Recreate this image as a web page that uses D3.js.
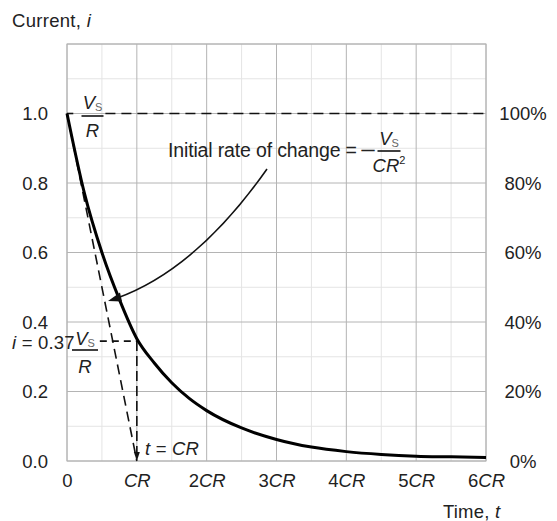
<!DOCTYPE html>
<html>
<head>
<meta charset="utf-8">
<script src="https://cdn.jsdelivr.net/npm/d3@7"></script>
<style>
  html, body { margin: 0; padding: 0; background: #fff; }
  svg text { font-family: "Liberation Sans", Arial, sans-serif; fill: #222; }
</style>
</head>
<body>
<svg id="chart" width="557" height="521"></svg>
<script>
// ---- data ----
const timeTicks = [0, 1, 2, 3, 4, 5, 6];
const timeTickNumbers = ["0", "", "2", "3", "4", "5", "6"];
const currentTicks = [0, 0.2, 0.4, 0.6, 0.8, 1.0];
const currentTickLabels = ["0.0", "0.2", "0.4", "0.6", "0.8", "1.0"];
const percentTickLabels = ["0%", "20%", "40%", "60%", "80%", "100%"];
const curveTime = [0, 0.25, 0.5, 0.75, 1, 1.25, 1.5, 1.75, 2, 2.5, 3, 3.5, 4, 4.5, 5, 5.5, 6];
const curveCurrent = [1.0, 0.77, 0.60, 0.465, 0.352, 0.282, 0.225, 0.18, 0.145, 0.095, 0.062, 0.04, 0.027, 0.019, 0.014, 0.012, 0.01];
const tangentTime = [0, 1];
const tangentCurrent = [1, 0];
const currentAtCR = 0.345;
const timeConstant = 1;
const initialCurrent = 1.0;

// ---- layout ----
const svg = d3.select("#chart");
const x = d3.scaleLinear().domain([0, 6]).range([67, 486]);
const y = d3.scaleLinear().domain([0, 1.2]).range([461, 44]);
const FS = 18.5;

// grid
const g = svg.append("g");
const vGrid = d3.range(0, 6.01, 0.5);
const hGrid = d3.range(0, 1.201, 0.1);
g.selectAll(".vminor").data(vGrid.filter(v => Math.abs(v - Math.round(v)) > 0.01))
  .join("line").attr("x1", d => x(d)).attr("x2", d => x(d)).attr("y1", y(0)).attr("y2", y(1.2))
  .attr("stroke", "#e4e4e4").attr("stroke-width", 1);
g.selectAll(".hminor").data(hGrid.filter(v => Math.abs(v * 5 - Math.round(v * 5)) > 0.01))
  .join("line").attr("y1", d => y(d)).attr("y2", d => y(d)).attr("x1", x(0)).attr("x2", x(6))
  .attr("stroke", "#e4e4e4").attr("stroke-width", 1);
g.selectAll(".vmajor").data(vGrid.filter(v => Math.abs(v - Math.round(v)) <= 0.01))
  .join("line").attr("x1", d => x(d)).attr("x2", d => x(d)).attr("y1", y(0)).attr("y2", y(1.2))
  .attr("stroke", "#b4b4b4").attr("stroke-width", 1);
g.selectAll(".hmajor").data(hGrid.filter(v => Math.abs(v * 5 - Math.round(v * 5)) <= 0.01))
  .join("line").attr("y1", d => y(d)).attr("y2", d => y(d)).attr("x1", x(0)).attr("x2", x(6))
  .attr("stroke", "#b4b4b4").attr("stroke-width", 1);
g.append("rect").attr("x", x(0)).attr("y", y(1.2)).attr("width", x(6) - x(0)).attr("height", y(0) - y(1.2))
  .attr("fill", "none").attr("stroke", "#b4b4b4").attr("stroke-width", 1);

// axes (text only, via d3 axes)
const leftAxis = d3.axisLeft(y).tickValues(currentTicks).tickFormat((d, i) => currentTickLabels[i]).tickSize(0).tickPadding(0);
const la = svg.append("g").attr("transform", `translate(48,0)`).call(leftAxis);
la.select(".domain").remove();
la.selectAll("text").attr("font-size", FS).attr("dy", "0.34em").style("font-family", "Liberation Sans, Arial, sans-serif").attr("fill", "#222");

const rightAxis = d3.axisRight(y).tickValues(currentTicks).tickFormat((d, i) => percentTickLabels[i]).tickSize(0).tickPadding(0);
const ra = svg.append("g").attr("transform", `translate(523,0)`).call(rightAxis);
ra.select(".domain").remove();
ra.selectAll("text").attr("font-size", FS).attr("dy", "0.34em").attr("text-anchor", "middle").style("font-family", "Liberation Sans, Arial, sans-serif").attr("fill", "#222");

const bottomAxis = d3.axisBottom(x).tickValues(timeTicks).tickFormat(() => "").tickSize(0).tickPadding(0);
const ba = svg.append("g").attr("transform", `translate(0,487)`).call(bottomAxis);
ba.select(".domain").remove();
ba.selectAll(".tick text").each(function (d, i) {
  const t = d3.select(this).attr("y", 0).attr("dy", 0).attr("font-size", FS).attr("text-anchor", "middle")
    .style("font-family", "Liberation Sans, Arial, sans-serif").attr("fill", "#222");
  t.text(null);
  if (timeTickNumbers[i]) t.append("tspan").text(timeTickNumbers[i]);
  if (d !== 0) t.append("tspan").attr("font-style", "italic").text("CR");
});

// axis titles
const ct = svg.append("text").attr("x", 12).attr("y", 27).attr("font-size", FS).attr("letter-spacing", 0.3);
ct.append("tspan").text("Current, ");
ct.append("tspan").attr("font-style", "italic").text("i");
const tt = svg.append("text").attr("x", 443).attr("y", 518).attr("font-size", FS).attr("letter-spacing", 0.2);
tt.append("tspan").text("Time, ");
tt.append("tspan").attr("font-style", "italic").text("t");

// dashed lines
const dash = "10,6";
const line = d3.line().x(d => x(d[0])).y(d => y(d[1]));
svg.append("path").attr("d", line([[0, initialCurrent], [0.09, initialCurrent]]))
  .attr("stroke", "#111").attr("stroke-width", 1.6).attr("fill", "none");
svg.append("path").attr("d", line([[0.55, initialCurrent], [6.04, initialCurrent]]))
  .attr("stroke", "#111").attr("stroke-width", 1.6).attr("fill", "none").attr("stroke-dasharray", dash);
// tangent
svg.append("path").attr("d", line(tangentTime.map((t, i) => [t, tangentCurrent[i]])))
  .attr("stroke", "#111").attr("stroke-width", 1.6).attr("fill", "none").attr("stroke-dasharray", dash);
// horizontal at 0.37
svg.append("path").attr("d", line([[0.47, currentAtCR], [timeConstant, currentAtCR]]))
  .attr("stroke", "#111").attr("stroke-width", 1.6).attr("fill", "none").attr("stroke-dasharray", "7,5");
// vertical at CR
svg.append("path").attr("d", line([[timeConstant, currentAtCR], [timeConstant, 0.02]]))
  .attr("stroke", "#111").attr("stroke-width", 1.6).attr("fill", "none").attr("stroke-dasharray", "10,5");
// small arrowhead at bottom of vertical
const ax = x(timeConstant), ay = y(0);
svg.append("path").attr("d", `M${ax},${ay} L${ax - 3},${ay - 9} L${ax + 3},${ay - 9} Z`).attr("fill", "#111");

// main curve
svg.append("path").attr("d", d3.line().x((d, i) => x(curveTime[i])).y(d => y(d)).curve(d3.curveMonotoneX)(curveCurrent))
  .attr("stroke", "#000").attr("stroke-width", 3).attr("fill", "none");

// annotation arrow
const p0 = [267, 169], pc = [196, 270], p1 = [108, 301];
svg.append("path").attr("d", `M${p0[0]},${p0[1]} Q${pc[0]},${pc[1]} ${p1[0] + 8},${p1[1] - 2.5}`)
  .attr("stroke", "#111").attr("stroke-width", 1.6).attr("fill", "none");
svg.append("path").attr("d", `M${p1[0]},${p1[1]} L${p1[0] + 12},${p1[1] - 8.5} L${p1[0] + 14},${p1[1] + 0.5} Z`).attr("fill", "#111");

// fraction helper
function fraction(cx, barY, bw, topGap, botGap, topParts, bottomParts) {
  const top = svg.append("text").attr("x", cx).attr("y", barY - topGap).attr("text-anchor", "middle").attr("font-size", FS);
  topParts.forEach(p => {
    const s = top.append("tspan").text(p.t);
    if (p.i) s.attr("font-style", "italic");
    if (p.sub) s.attr("font-size", 11).attr("fill", "#666").attr("dy", 2);
    if (p.sup) s.attr("font-size", 11).attr("dy", -7);
  });
  svg.append("line").attr("x1", cx - bw / 2).attr("x2", cx + bw / 2).attr("y1", barY).attr("y2", barY)
    .attr("stroke", "#111").attr("stroke-width", 1.6);
  const bot = svg.append("text").attr("x", cx).attr("y", barY + botGap).attr("text-anchor", "middle").attr("font-size", FS);
  bottomParts.forEach(p => {
    const s = bot.append("tspan").text(p.t);
    if (p.i) s.attr("font-style", "italic");
    if (p.sup) s.attr("font-size", 11).attr("dy", -8);
  });
}

// Vs/R at 1.0
fraction(92.5, 116, 22, 7, 21, [{ t: "V", i: true }, { t: "S", sub: true }], [{ t: "R", i: true }]);

// Initial rate annotation
svg.append("text").attr("x", 168).attr("y", 157).attr("font-size", 19.5)
  .attr("textLength", 189).attr("lengthAdjust", "spacing")
  .text("Initial rate of change =");
svg.append("text").attr("x", 360).attr("y", 157).attr("font-size", 19.5)
  .attr("textLength", 16).attr("lengthAdjust", "spacingAndGlyphs").text("\u2212");
fraction(389, 151, 23, 6, 21, [{ t: "V", i: true }, { t: "S", sub: true }], [{ t: "CR", i: true }, { t: "2", sup: true }]);

// i = 0.37 Vs/R
const il = svg.append("text").attr("x", 12).attr("y", 349).attr("font-size", FS).attr("letter-spacing", 0.2);
il.append("tspan").attr("font-style", "italic").text("i");
il.append("tspan").text(" = 0.37");
fraction(85, 350, 26, 5, 23, [{ t: "V", i: true }, { t: "S", sub: true }], [{ t: "R", i: true }]);

// t = CR label
const tl = svg.append("text").attr("x", 145).attr("y", 455).attr("font-size", FS).attr("letter-spacing", 0.2);
tl.append("tspan").attr("font-style", "italic").text("t");
tl.append("tspan").text(" = ");
tl.append("tspan").attr("font-style", "italic").text("CR");
</script>
</body>
</html>
